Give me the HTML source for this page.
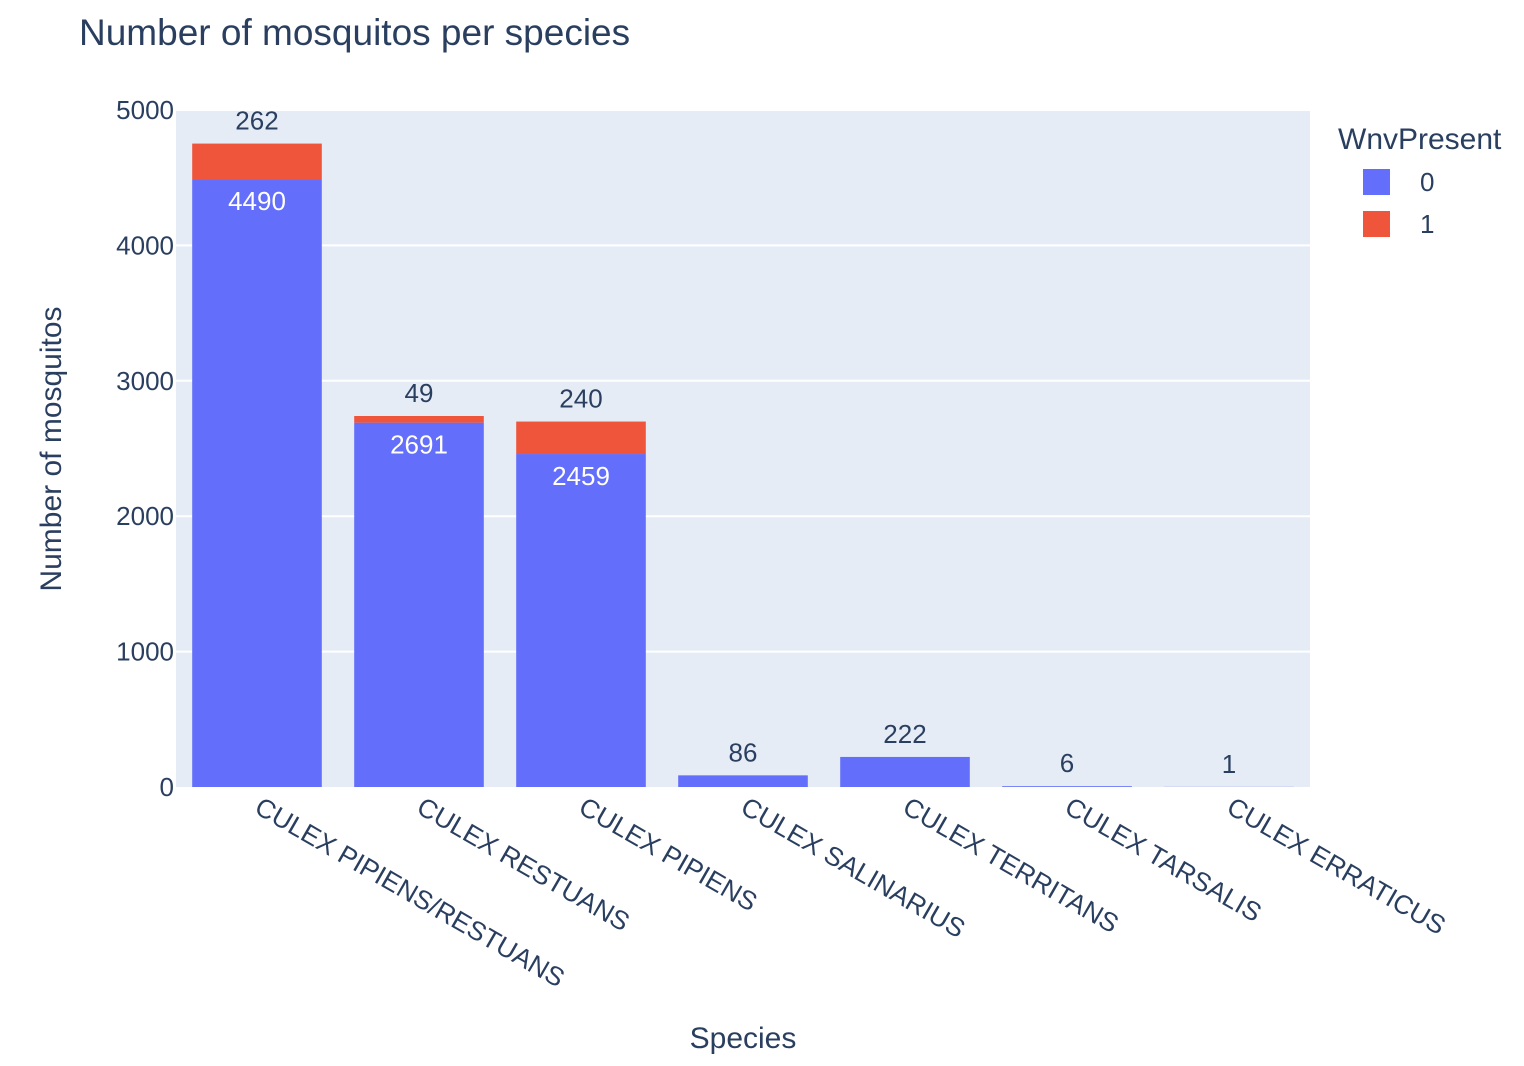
<!DOCTYPE html>
<html><head><meta charset="utf-8"><style>
body{margin:0;background:#fff;}
svg{display:block;font-family:"Liberation Sans",sans-serif;}
</style></head><body>
<svg id="chart" width="1524" height="1066">
<rect x="0" y="0" width="1524" height="1066" fill="#fff"/>
<text x="79" y="45" font-size="37" fill="#2a3f5f">Number of mosquitos per species</text>
<rect x="176" y="110" width="1134" height="677" fill="#E5ECF6"/>
<g id="grid"></g>
<g id="bars"></g>
<g id="labels"></g>
<g id="xticks"></g>
<text x="743" y="1048" font-size="30" fill="#2a3f5f" text-anchor="middle">Species</text>
<text transform="translate(61,449) rotate(-90)" font-size="30" fill="#2a3f5f" text-anchor="middle">Number of mosquitos</text>
<g>
<text x="1338" y="149" font-size="30" fill="#2a3f5f">WnvPresent</text>
<g><rect x="1363" y="169" width="27" height="26" fill="#636EFA"/><text x="1420" y="191" font-size="26" fill="#2a3f5f">0</text></g>
<g><rect x="1363" y="211" width="27" height="26" fill="#EF553B"/><text x="1420" y="233" font-size="26" fill="#2a3f5f">1</text></g>
</g>
</svg>
<script>
const categories=["CULEX PIPIENS/RESTUANS","CULEX RESTUANS","CULEX PIPIENS","CULEX SALINARIUS","CULEX TERRITANS","CULEX TARSALIS","CULEX ERRATICUS"];
const series0=[4490,2691,2459,86,222,6,1];
const series1=[262,49,240,0,0,0,0];
const yTicks=[0,1000,2000,3000,4000,5000];
const NS="http://www.w3.org/2000/svg";
const x0=176,x1=1310,yb=787,yt=110,yMax=5000;
const band=(x1-x0)/categories.length,bw=band*0.8;
const y=v=>yb-v/yMax*(yb-yt);
const xc=i=>x0+band*(i+0.5);
function mk(tag,attrs,parent){const e=document.createElementNS(NS,tag);for(const k in attrs)e.setAttribute(k,attrs[k]);document.getElementById(parent).appendChild(e);return e;}
yTicks.forEach(t=>{
 if(t>0){const l=mk('line',{x1:x0,x2:x1,y1:y(t),y2:y(t),stroke:'#fff','stroke-width':2},'grid');
 
 }
 const tx=mk('text',{x:x0-2,y:y(t)+9,'font-size':26,fill:'#2a3f5f','text-anchor':'end'},'grid');
 tx.textContent=t;
 
 
});
categories.forEach((c,i)=>{
 const cx=xc(i),v0=series0[i],v1=series1[i];
 const b0=mk('rect',{x:cx-bw/2,y:y(v0),width:bw,height:y(0)-y(v0),fill:'#636EFA'},'bars');
 
 
 if(v1>0){const b1=mk('rect',{x:cx-bw/2,y:y(v0+v1),width:bw,height:y(v0)-y(v0+v1),fill:'#EF553B'},'bars');
 
 }
 const inside=(y(0)-y(v0))>45;
 const t0=mk('text',{x:cx,y:inside?y(v0)+31:y(v0+v1)-14,'font-size':26,fill:inside?'#fff':'#2a3f5f','text-anchor':'middle'},'labels');
 t0.textContent=v0;
 
 
 if(v1>0){const t1=mk('text',{x:cx,y:y(v0+v1)-14,'font-size':26,fill:'#2a3f5f','text-anchor':'middle'},'labels');
 t1.textContent=v1;
 
 }
 const tk=mk('text',{transform:`translate(${cx-4},${812}) rotate(30)`,'font-size':26.5,fill:'#2a3f5f'},'xticks');
 tk.textContent=c;
 
 
});
</script>
</body></html>
